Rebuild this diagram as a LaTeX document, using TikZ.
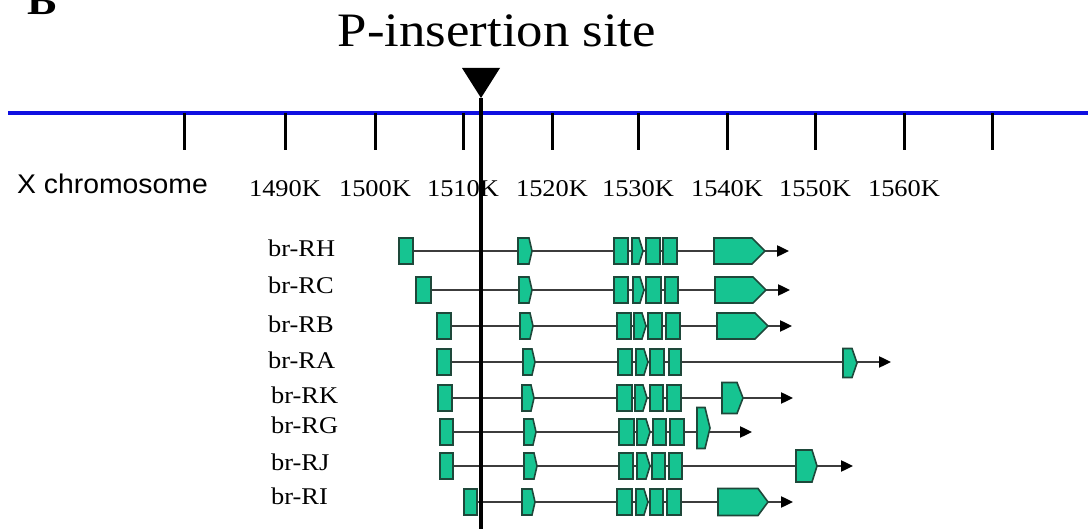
\documentclass[tikz,border=0pt]{standalone}
\usepackage{fontspec}
\usetikzlibrary{arrows.meta}
\newfontfamily\labelserif{Liberation Serif}[FakeStretch=1.1]
\newfontfamily\labelsans{Liberation Sans}[FakeStretch=1.05]
\definecolor{exonfill}{RGB}{22,196,145}
\definecolor{exonedge}{RGB}{30,72,58}
\definecolor{chromblue}{RGB}{15,15,225}
\definecolor{introngray}{RGB}{60,60,60}
\tikzset{
  exon/.style={fill=exonfill, draw=exonedge, line width=1.6pt, line join=miter},
  intron/.style={draw=introngray, line width=2.4pt,
    -{Triangle[length=12pt,width=11pt,color=black]}},
  chrom/.style={draw=chromblue, line width=4pt},
  tickmark/.style={draw=black, line width=3pt},
  ticklabel/.style={anchor=base, inner sep=0pt, font=\labelserif\fontsize{24}{24}\selectfont},
  rowlabel/.style={anchor=base west, inner sep=0pt, font=\labelserif\fontsize{24}{24}\selectfont},
  site/.style={draw=black, line width=4pt},
}
% exon outline: left x, right x, centre y, height, depth of the pointed end
\newcommand\exonshape[5]{%
  \draw[exon] (#1,{#3-#4/2}) -- ({#2-#5},{#3-#4/2}) -- (#2,#3)
    -- ({#2-#5},{#3+#4/2}) -- (#1,{#3+#4/2}) -- cycle;}
% transcript: name, centre y, intron start x, arrow end x, exon list a/b/h/t/dy
\newcommand\transcript[5]{%
  \coordinate (#1-start) at (#3,#2);
  \coordinate (#1-end) at (#4,#2);
  \draw[intron] (#1-start) -- (#1-end);
  \foreach \a/\b/\h/\t/\d in {#5} {\exonshape{\a}{\b}{#2+\d}{\h}{\t}}
}
\begin{document}
\begin{tikzpicture}[x=1pt,y=-1pt]
\useasboundingbox (0,0) rectangle (1088,529);

% panel letter
\node[anchor=base west, inner sep=0pt, font=\labelserif\bfseries\fontsize{40}{40}\selectfont] (panel) at (27,15) {B};

% chromosome axis
\coordinate (chrL) at (8,113);
\coordinate (chrR) at (1088,113);
\draw[chrom] (chrL) -- (chrR);
\foreach \x [count=\i] in {184,285,375,463,552,638,727,815,904,992}
  \draw[tickmark] (\x,113) -- (\x,150);
\foreach \x/\t in {285/1490K,375/1500K,463/1510K,552/1520K,638/1530K,727/1540K,815/1550K,904/1560K}
  \node[ticklabel] (lab\t) at (\x,197) {\t};
\node[anchor=base west, inner sep=0pt, font=\labelsans\fontsize{27}{27}\selectfont] (xchr) at (17,194) {X chromosome};

% transcripts
\node[rowlabel] (lRH) at (268,257) {br-RH};
\transcript{RH}{251}{413}{789}{399/413/26/0/0,518/532/26/3/0,614/628/26/0/0,632/643/26/4/0,646/660/26/0/0,663/677/26/0/0,714/765/26/13/0}
\node[rowlabel] (lRC) at (268,294) {br-RC};
\transcript{RC}{290}{431}{790}{416/431/26/0/0,519/532/26/3/0,614/628/26/0/0,633/644/26/4/0,646/661/26/0/0,665/678/26/0/0,715/766/26/13/0}
\node[rowlabel] (lRB) at (268,333) {br-RB};
\transcript{RB}{326}{451}{792}{437/451/26/0/0,520/533/26/3/0,617/631/26/0/0,634/646/26/4/0,648/662/26/0/0,666/680/26/0/0,717/768/26/13/0}
\node[rowlabel] (lRA) at (268,369) {br-RA};
\transcript{RA}{362}{451}{891}{437/451/26/0/0,523/535/26/3/0,618/632/26/0/0,636/648/26/4/0,650/664/26/0/0,669/681/26/0/0,843/857/29/5/1}
\node[rowlabel] (lRK) at (271,404) {br-RK};
\transcript{RK}{398}{452}{793}{438/452/26/0/0,522/534/26/3/0,617/632/26/0/0,635/647/26/4/0,650/663/26/0/0,667/681/26/0/0,722/743/31/6/0}
\node[rowlabel] (lRG) at (271,434) {br-RG};
\transcript{RG}{432}{453}{752}{440/453/26/0/0,524/536/26/3/0,619/634/26/0/0,637/650/26/4/0,653/666/26/0/0,670/684/26/0/0,697/710/41/5/-4}
\node[rowlabel] (lRJ) at (271,471) {br-RJ};
\transcript{RJ}{466}{453}{853}{440/453/26/0/0,524/537/26/3/0,619/633/26/0/0,637/650/26/4/0,652/665/26/0/0,669/682/26/0/0,796/817/32/5/0}
\node[rowlabel] (lRI) at (271,504) {br-RI};
\transcript{RI}{502}{477}{793}{464/477/26/0/0,522/535/26/3/0,617/632/26/0/0,636/648/26/4/0,650/663/26/0/0,667/681/26/0/0,718/768/27/10/0}

% insertion site
\node[anchor=base, inner sep=0pt, font=\labelserif\fontsize{48}{48}\selectfont] (sitelabel) at (497,47) {P-insertion site};
\coordinate (siteTop) at (481,98);
\coordinate (siteBottom) at (481,535);
\draw[site] (siteTop) -- (siteBottom);
\fill[black] (462,68) -- (500,68) -- (siteTop) -- cycle;
\end{tikzpicture}
\end{document}
